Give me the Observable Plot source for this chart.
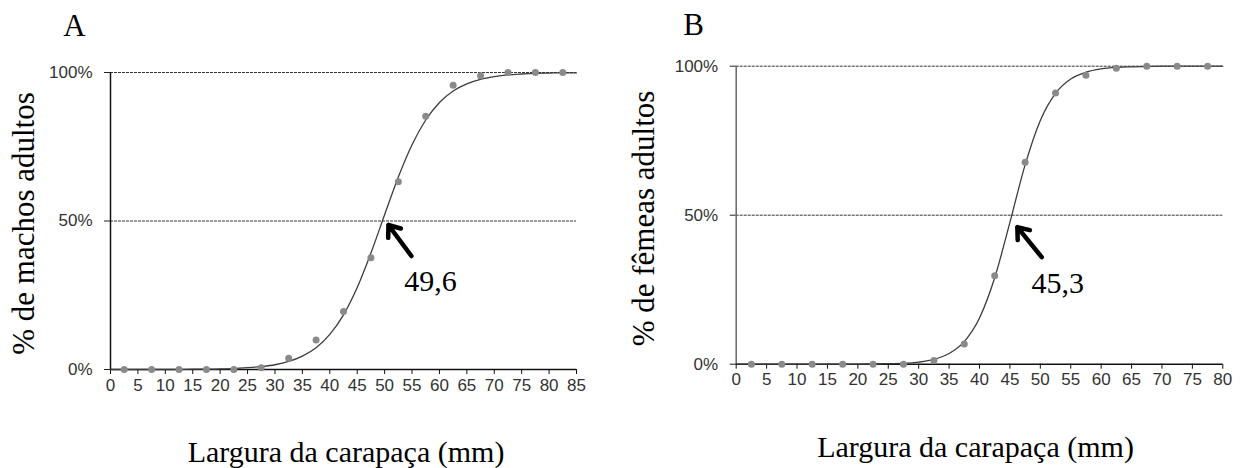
<!DOCTYPE html>
<html><head><meta charset="utf-8">
<script src="https://cdn.jsdelivr.net/npm/d3@7"></script>
<script src="https://cdn.jsdelivr.net/npm/@observablehq/plot@0.6"></script>
<style>
html,body{margin:0;padding:0;background:#fff;}
#wrap{position:relative;width:1243px;height:468px;overflow:hidden;background:#fff;}
#wrap svg{position:absolute;top:0;}
</style></head><body><div id="wrap"></div>
<script>
// ---- data ----
const sizeMidA = [2.5,7.5,12.5,17.5,22.5,27.5,32.5,37.5,42.5,47.5,52.5,57.5,62.5,67.5,72.5,77.5,82.5];
const adultMalesPct = [0,0,0,0,0,0.006,0.038,0.099,0.195,0.376,0.632,0.853,0.957,0.989,1,1,1];
const sizeMidB = [2.5,7.5,12.5,17.5,22.5,27.5,32.5,37.5,42.5,47.5,52.5,57.5,62.5,67.5,72.5,77.5];
const adultFemalesPct = [0,0,0,0,0,0,0.012,0.068,0.297,0.678,0.91,0.97,0.993,1,1,1];

const fitXA = [0,2.5,5,7.5,10,12.5,15,17.5,20,22.5,25,27.5,30,32.5,35,37.5,40,42.5,45,47.5,50,52.5,55,57.5,60,62.5,65,67.5,70,72.5,75,77.5,80,82.5,85];
const fitYA = [0,0,0,0,0,0,0.001,0.001,0.002,0.003,0.006,0.010,0.016,0.027,0.045,0.073,0.118,0.184,0.276,0.392,0.521,0.648,0.757,0.840,0.899,0.938,0.962,0.977,0.986,0.992,0.995,0.997,0.998,0.999,0.999];
const fitXB = [0,2.5,5,7.5,10,12.5,15,17.5,20,22.5,25,27.5,30,32.5,35,37.5,40,42.5,45,47.5,50,52.5,55,57.5,60,62.5,65,67.5,70,72.5,75,77.5,80];
const fitYB = [0,0,0,0,0,0,0,0,0,0.001,0.002,0.003,0.007,0.016,0.036,0.076,0.155,0.290,0.476,0.669,0.818,0.909,0.957,0.980,0.991,0.996,0.998,0.999,1,1,1,1,1];

const l50A = 49.6, l50B = 45.3;
const l50LabelA = "49,6", l50LabelB = "45,3";
const xTicksA = [0,5,10,15,20,25,30,35,40,45,50,55,60,65,70,75,80,85];
const xTicksB = [0,5,10,15,20,25,30,35,40,45,50,55,60,65,70,75,80];
const yTicks = [0, 0.5, 1];
const yTickLabels = ["0%", "50%", "100%"];
const gridLevels = [0.5, 1];
const panelLetters = ["A", "B"];
const yTitles = ["% de machos adultos", "% de fêmeas adultos"];
const xTitle = "Largura da carapaça (mm)";

const SERIF = "'Liberation Serif','Times New Roman',Times,serif";
const SANS = "'Liberation Sans',Arial,Helvetica,sans-serif";

function panel(cfg) {
  const pts = cfg.xs.map((x, i) => ({x, y: cfg.ys[i]}));
  const fit = cfg.fx.map((x, i) => ({x, y: cfg.fy[i]}));
  const xmax = cfg.xTicks[cfg.xTicks.length - 1];
  const sx = cfg.pxX, sy = cfg.pxY; // data units per pixel
  return Plot.plot({
    width: cfg.width, height: 468,
    marginLeft: cfg.ml, marginRight: cfg.mr, marginTop: cfg.mt, marginBottom: cfg.mb,
    style: {fontFamily: SANS, fontSize: "17px", color: "#333", background: "transparent", overflow: "visible"},
    x: {domain: [0, xmax]},
    y: {domain: [0, 1]},
    marks: [
      Plot.ruleY(gridLevels, {x1: 0, x2: xmax, stroke: "#333", strokeWidth: 1, strokeDasharray: "3,1"}),
      Plot.axisY({ticks: yTicks, tickFormat: (d) => yTickLabels[yTicks.indexOf(d)], tickSize: 6, tickPadding: 12, stroke: "#222", fill: "#333", fontSize: 17, label: null}),
      Plot.axisX({ticks: cfg.xTicks, tickFormat: (d) => String(d), tickSize: 5, tickPadding: 4, stroke: "#111", fill: "#333", fontSize: 17, label: null}),
      Plot.ruleX([0], {stroke: cfg.yAxisColor, strokeWidth: 1.5}),
      Plot.ruleY([0], {stroke: "#111", strokeWidth: 1.5}),
      Plot.line(fit, {x: "x", y: "y", stroke: "#3c3c3c", strokeWidth: 1.3, curve: "monotone-x"}),
      Plot.dot(pts, {x: "x", y: "y", r: 3.5, fill: "#8a8a8a", stroke: "none"}),
      Plot.arrow([cfg.l50], {
        x1: (d) => d + cfg.tail[0] * sx, y1: 0.5 - cfg.tail[1] * sy,
        x2: (d) => d + cfg.tip[0] * sx, y2: 0.5 - cfg.tip[1] * sy,
        stroke: "#000", strokeWidth: 4.5, headLength: 6, headAngle: 75
      }),
      Plot.text([cfg.l50Label], {x: [cfg.l50], y: [0.5], text: (d) => d, dx: cfg.lab[0], dy: cfg.lab[1],
        textAnchor: "middle", lineAnchor: "bottom", fontFamily: SERIF, fontSize: 30, fill: "#000"}),
      Plot.text([cfg.letter], {frameAnchor: "top-left", text: (d) => d, dx: cfg.letterPos[0], dy: cfg.letterPos[1],
        textAnchor: "start", lineAnchor: "bottom", fontFamily: SERIF, fontSize: 31, fill: "#000"}),
      Plot.text([cfg.yTitle], {frameAnchor: "left", text: (d) => d, rotate: -90, dx: cfg.yTitlePos[0], dy: cfg.yTitlePos[1],
        textAnchor: "middle", lineAnchor: "middle", fontFamily: SERIF, fontSize: 31, fill: "#000",
        wordSpacing: 3}),
      Plot.text([xTitle], {frameAnchor: "bottom", text: (d) => d, dx: cfg.xTitlePos[0], dy: cfg.xTitlePos[1],
        textAnchor: "middle", lineAnchor: "bottom", fontFamily: SERIF, fontSize: 30, fill: "#000"})
    ]
  });
}

const wrap = document.getElementById("wrap");
const a = panel({
  xs: sizeMidA, ys: adultMalesPct, fx: fitXA, fy: fitYA, xTicks: xTicksA,
  width: 620, ml: 110, mr: 44, mt: 72, mb: 99,
  pxX: 85 / 466, pxY: 1 / 297, yAxisColor: "#111",
  l50: l50A, l50Label: l50LabelA, tip: [6, 4], tail: [29, 35], lab: [48, 70],
  letter: panelLetters[0], letterPos: [-47.3, -37], yTitle: yTitles[0], yTitlePos: [-86.6, 2.5], xTitlePos: [2.5, 92.7]
});
a.style.left = "0px";
wrap.appendChild(a);
const b = panel({
  xs: sizeMidB, ys: adultFemalesPct, fx: fitXB, fy: fitYB, xTicks: xTicksB,
  width: 623, ml: 115.7, mr: 20.7, mt: 65.7, mb: 104.3,
  pxX: 80 / 486.6, pxY: 1 / 298, yAxisColor: "#666",
  l50: l50B, l50Label: l50LabelB, tip: [5.6, 12], tail: [30, 42], lab: [46, 78],
  letter: panelLetters[1], letterPos: [-53, -30.7], yTitle: yTitles[1], yTitlePos: [-92, 3.3], xTitlePos: [-4, 93]
});
b.style.left = "620px";
wrap.appendChild(b);
</script>
</body></html>
